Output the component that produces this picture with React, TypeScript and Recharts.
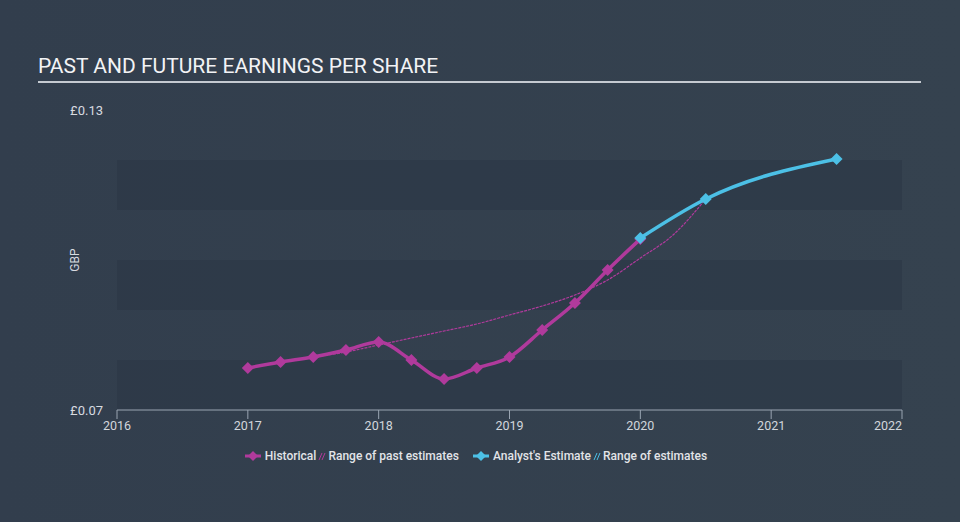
import { ComposedChart, Line, XAxis, YAxis, ReferenceArea } from "recharts";

const xTicks = [2016, 2017, 2018, 2019, 2020, 2021, 2022];
const yTicks = [0.07, 0.13];
const bandLows = [0.07, 0.09, 0.11];
const bandHighs = [0.08, 0.1, 0.12];

const histYears = [2017, 2017.25, 2017.5, 2017.75, 2018, 2018.25, 2018.5, 2018.75, 2019, 2019.25, 2019.5, 2019.75, 2020];
const histEps = [0.0784, 0.0796, 0.0806, 0.082, 0.0836, 0.08, 0.0762, 0.0784, 0.0806, 0.086, 0.0914, 0.098, 0.1042];

const pastYears = [2017.5, 2017.75, 2018, 2018.25, 2018.5, 2018.75, 2019, 2019.25, 2019.5, 2019.75, 2020, 2020.25, 2020.5];
const pastEps = [0.0806, 0.0816, 0.083, 0.0844, 0.0858, 0.0872, 0.089, 0.0908, 0.093, 0.096, 0.1004, 0.105, 0.1122];

const estYears = [2020, 2020.5, 2021.5];
const estEps = [0.1044, 0.1122, 0.1202];

const legendItems = [
  { label: "Historical", range: "Range of past estimates", color: "#b03a9c" },
  { label: "Analyst's Estimate", range: "Range of estimates", color: "#4cc0e6" },
];

const MAGENTA = "#b03a9c";
const CYAN = "#4cc0e6";
const FONT = "Roboto, 'Noto Sans', sans-serif";

const histData = histYears.map((x, i) => ({ x, eps: histEps[i] }));
const pastData = pastYears.map((x, i) => ({ x, eps: pastEps[i] }));
const estData = estYears.map((x, i) => ({ x, eps: estEps[i] }));

const diamond = (color: string, r: number) => (props: any) => {
  const { cx, cy, index } = props;
  if (cx == null || cy == null) return <g key={index} />;
  return (
    <path
      key={index}
      d={`M${cx},${cy - r}L${cx + r},${cy}L${cx},${cy + r}L${cx - r},${cy}Z`}
      fill={color}
    />
  );
};

const XTick = (props: any) => {
  const { x, y, payload } = props;
  const last = payload.value === xTicks[xTicks.length - 1];
  return (
    <text
      x={x}
      y={y}
      dy="0.71em"
      textAnchor={last ? "end" : "middle"}
      fill="#d2d6dc"
      fontSize={12.5}
      fontFamily={FONT}
    >
      {payload.value}
    </text>
  );
};

function LegendRow() {
  return (
    <div
      style={{
        position: "absolute",
        top: 449,
        left: 0,
        width: 952,
        display: "flex",
        justifyContent: "center",
        gap: 14,
        fontFamily: FONT,
        fontSize: 12,
        fontWeight: 500,
        color: "#e2e4e8",
      }}
    >
      {legendItems.map((it) => (
        <div key={it.label} style={{ display: "flex", alignItems: "center" }}>
          <svg width={16} height={14} style={{ marginRight: 4 }}>
            <line x1={0} y1={7} x2={16} y2={7} stroke={it.color} strokeWidth={3} />
            <path d="M8,2L13,7L8,12L3,7Z" fill={it.color} />
          </svg>
          <span>{it.label}</span>
          <svg width={10} height={14} style={{ margin: "0 1px" }}>
            <line x1={2} y1={11} x2={5} y2={4} stroke={it.color} strokeWidth={1} />
            <line x1={5} y1={11} x2={8} y2={4} stroke={it.color} strokeWidth={1} />
          </svg>
          <span>{it.range}</span>
        </div>
      ))}
    </div>
  );
}

export default function App() {
  return (
    <div
      style={{
        position: "absolute",
        left: 0,
        top: 0,
        width: 960,
        height: 522,
        background: "linear-gradient(90deg, #323e4d 0%, #35424f 100%)",
        overflow: "hidden",
      }}
    >
      <div
        style={{
          position: "absolute",
          left: 38,
          top: 54,
          fontFamily: FONT,
          fontSize: 21,
          color: "#f2f3f5",
          letterSpacing: 0,
        }}
      >
        PAST AND FUTURE EARNINGS PER SHARE
      </div>
      <div
        style={{
          position: "absolute",
          left: 38,
          top: 81,
          width: 883,
          height: 1.5,
          background: "#c5cad1",
        }}
      />
      <div style={{ position: "absolute", left: 0, top: 0 }}>
        <ComposedChart
          width={960}
          height={522}
          margin={{ top: 110, right: 58, bottom: 82, left: 0 }}
        >
          {bandLows.map((lo, i) => (
            <ReferenceArea
              key={lo}
              x1={xTicks[0]}
              x2={xTicks[xTicks.length - 1]}
              y1={lo}
              y2={bandHighs[i]}
              fill="#2b3746"
              fillOpacity={0.6}
              stroke="none"
              ifOverflow="visible"
            />
          ))}
          <XAxis
            dataKey="x"
            type="number"
            domain={[2016, 2022]}
            ticks={xTicks}
            height={30}
            tick={<XTick />}
            tickSize={9}
            tickMargin={2}
            stroke="#9aa5b2"
            allowDuplicatedCategory={false}
          />
          <YAxis
            type="number"
            domain={[0.07, 0.13]}
            ticks={yTicks}
            width={117}
            axisLine={false}
            tickLine={false}
            tickSize={6}
            tickMargin={8}
            tick={{ fill: "#d8dbe0", fontSize: 13, fontFamily: FONT }}
            tickFormatter={(v: number) => `£${v.toFixed(2)}`}
            label={(p: any) => {
              const vb = p.viewBox;
              const cx = vb.x + vb.width - 42;
              const cy = vb.y + vb.height / 2;
              return (
                <text
                  x={cx}
                  y={cy}
                  transform={`rotate(-90 ${cx} ${cy})`}
                  textAnchor="middle"
                  dominantBaseline="central"
                  fill="#d8dbe0"
                  fontSize={12}
                  fontFamily={FONT}
                >
                  GBP
                </text>
              );
            }}
          />
          <Line
            data={pastData}
            dataKey="eps"
            type="monotone"
            stroke={MAGENTA}
            strokeWidth={1.2}
            strokeDasharray="3 1"
            dot={false}
            activeDot={false}
            isAnimationActive={false}
          />
          <Line
            data={histData}
            dataKey="eps"
            type="monotone"
            stroke={MAGENTA}
            strokeWidth={3.5}
            dot={diamond(MAGENTA, 6)}
            activeDot={false}
            isAnimationActive={false}
          />
          <Line
            data={estData}
            dataKey="eps"
            type="monotone"
            stroke={CYAN}
            strokeWidth={3.5}
            dot={diamond(CYAN, 6)}
            activeDot={false}
            isAnimationActive={false}
          />
        </ComposedChart>
      </div>
      <LegendRow />
    </div>
  );
}
